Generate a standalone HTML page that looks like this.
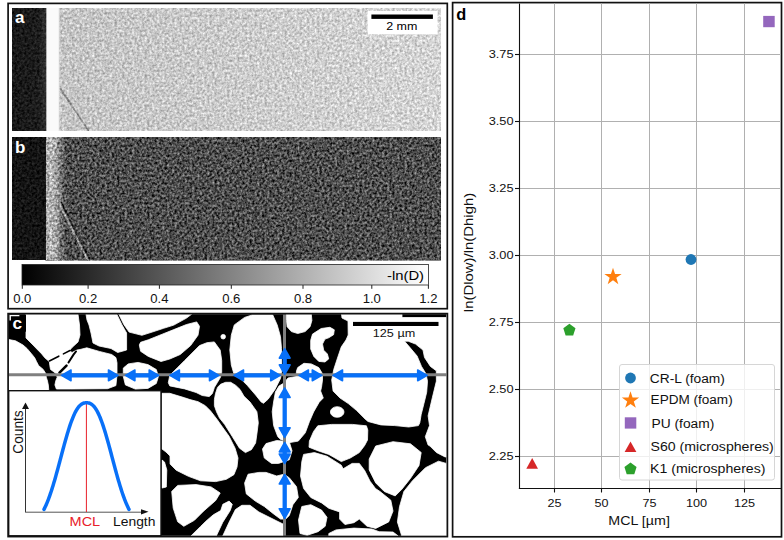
<!DOCTYPE html>
<html><head><meta charset="utf-8">
<style>
html,body{margin:0;padding:0;background:#fff;width:784px;height:540px;overflow:hidden}
svg{display:block;font-family:"Liberation Sans",sans-serif}
</style></head><body>
<svg width="784" height="540" viewBox="0 0 784 540">
<defs>
<linearGradient id="cb" x1="0" x2="1" y1="0" y2="0">
<stop offset="0" stop-color="#000"/><stop offset="1" stop-color="#fff"/>
</linearGradient>
<filter id="nzA" x="0" y="0" width="1" height="1" color-interpolation-filters="sRGB">
<feTurbulence type="fractalNoise" baseFrequency="0.4" numOctaves="2" seed="4" result="t"/>
<feColorMatrix in="t" type="matrix" values="1 0 0 0 0  1 0 0 0 0  1 0 0 0 0  0 0 0 0 1" result="g"/>
<feComposite in="SourceGraphic" in2="g" operator="arithmetic" k1="0" k2="1" k3="0.55" k4="-0.275"/>
</filter>
<filter id="nzB" x="0" y="0" width="1" height="1" color-interpolation-filters="sRGB">
<feTurbulence type="fractalNoise" baseFrequency="0.4" numOctaves="2" seed="9" result="t"/>
<feColorMatrix in="t" type="matrix" values="1 0 0 0 0  1 0 0 0 0  1 0 0 0 0  0 0 0 0 1" result="g"/>
<feComposite in="SourceGraphic" in2="g" operator="arithmetic" k1="0" k2="1" k3="0.95" k4="-0.475"/>
</filter>
<filter id="nzD" x="0" y="0" width="1" height="1" color-interpolation-filters="sRGB">
<feTurbulence type="fractalNoise" baseFrequency="0.4" numOctaves="2" seed="2" result="t"/>
<feColorMatrix in="t" type="matrix" values="1 0 0 0 0  1 0 0 0 0  1 0 0 0 0  0 0 0 0 1" result="g"/>
<feComposite in="SourceGraphic" in2="g" operator="arithmetic" k1="0" k2="1" k3="0.3" k4="-0.15"/>
</filter>
<linearGradient id="gaw" gradientUnits="userSpaceOnUse" x1="57.4" x2="61.4" y1="0" y2="0">
<stop offset="0" stop-color="#fafafa"/><stop offset="1" stop-color="#c8c8c8" stop-opacity="0"/>
</linearGradient>
<linearGradient id="gad" gradientUnits="userSpaceOnUse" x1="12" x2="46.5" y1="0" y2="0">
<stop offset="0" stop-color="#181818"/><stop offset="0.75" stop-color="#1c1c1c"/><stop offset="1" stop-color="#303030"/>
</linearGradient>
<linearGradient id="gbb" gradientUnits="userSpaceOnUse" x1="45.7" x2="66" y1="0" y2="0">
<stop offset="0" stop-color="#a8a8a8"/><stop offset="0.25" stop-color="#b8b8b8"/><stop offset="0.55" stop-color="#a0a0a0"/><stop offset="0.7" stop-color="#7a7a7a"/><stop offset="0.85" stop-color="#646464"/><stop offset="1" stop-color="#4d4d4d"/>
</linearGradient>
<linearGradient id="ga" gradientUnits="userSpaceOnUse" x1="60" x2="441" y1="0" y2="0">
<stop offset="0" stop-color="#c4c4c4"/><stop offset="1" stop-color="#d5d5d5"/>
</linearGradient>
</defs>
<rect width="784" height="540" fill="#fff"/>

<!-- ===== Panel a/b frame ===== -->
<rect x="8.1" y="3.4" width="439.2" height="305.3" fill="none" stroke="#111" stroke-width="1.7"/>

<!-- Panel a -->
<g id="pa"><g filter="url(#nzA)">
<rect x="59" y="8" width="382" height="123" fill="url(#ga)"/>
<polyline points="60,88 66,97 72,106 78,115 84,124 88.5,131" fill="none" stroke="#8a8a8a" stroke-width="1.6"/>
</g>
<g filter="url(#nzD)"><rect x="12" y="8" width="34.5" height="123" fill="url(#gad)"/></g>
<rect x="46.5" y="8" width="11" height="123" fill="#fafafa"/>
<rect x="57.4" y="8" width="4" height="123" fill="url(#gaw)"/>
<rect x="367.6" y="11" width="70" height="23.3" fill="#fff"/>
<rect x="371.4" y="14.5" width="61.5" height="4.4" fill="#000"/>
<text x="386.2" y="30.2" font-size="11" textLength="31.2" lengthAdjust="spacingAndGlyphs" fill="#000">2 mm</text>
<text x="15" y="23" font-size="17" font-weight="bold" fill="#fff">a</text>
</g>

<!-- Panel b -->
<g id="pb"><g filter="url(#nzB)">
<rect x="45.7" y="137" width="395.3" height="123" fill="#4d4d4d"/>
<rect x="45.7" y="137" width="20.3" height="123" fill="url(#gbb)"/>
<polyline points="59,203 66,217 73,231 80,245 88.5,261" fill="none" stroke="#9a9a9a" stroke-width="2"/>
<polyline points="61,202 68,216 75,230 82,244 90.5,260" fill="none" stroke="#262626" stroke-width="1.6"/>
</g>
<g filter="url(#nzD)"><rect x="12" y="137" width="33.7" height="123" fill="#141414"/></g>
<text x="15" y="153" font-size="17" font-weight="bold" fill="#fff">b</text>
</g>

<!-- colorbar -->
<rect x="22" y="264.5" width="406.5" height="20.5" fill="url(#cb)" stroke="#222" stroke-width="0.8"/>
<text x="387" y="280.3" font-size="13.2" textLength="37" lengthAdjust="spacingAndGlyphs" fill="#000">-ln(D)</text>
<g stroke="#222" stroke-width="1">
<line x1="22.3" y1="285" x2="22.3" y2="288.8"/>
<line x1="88.1" y1="285" x2="88.1" y2="288.8"/>
<line x1="159.4" y1="285" x2="159.4" y2="288.8"/>
<line x1="231.3" y1="285" x2="231.3" y2="288.8"/>
<line x1="303" y1="285" x2="303" y2="288.8"/>
<line x1="371.8" y1="285" x2="371.8" y2="288.8"/>
<line x1="428.4" y1="285" x2="428.4" y2="288.8"/>
</g>
<g font-size="12" text-anchor="middle" fill="#111">
<text x="22.3" y="302.9" textLength="18.2" lengthAdjust="spacingAndGlyphs">0.0</text>
<text x="88.1" y="302.9" textLength="18.2" lengthAdjust="spacingAndGlyphs">0.2</text>
<text x="159.4" y="302.9" textLength="18.2" lengthAdjust="spacingAndGlyphs">0.4</text>
<text x="231.3" y="302.9" textLength="18.2" lengthAdjust="spacingAndGlyphs">0.6</text>
<text x="303" y="302.9" textLength="18.2" lengthAdjust="spacingAndGlyphs">0.8</text>
<text x="371.8" y="302.9" textLength="18.2" lengthAdjust="spacingAndGlyphs">1.0</text>
<text x="428.4" y="302.9" textLength="18.2" lengthAdjust="spacingAndGlyphs">1.2</text>
</g>

<!-- ===== Panel c ===== -->

<g id="pc">
<rect x="8.7" y="314.2" width="437.6" height="221.6" fill="#000"/>
<g fill="#fff" stroke="#fff" stroke-width="0.8" stroke-linejoin="round">
<polygon points="26,314.2 78,314.2 79.5,325 80,335 78,342 72,347.5 69.5,350.5 72,352.5 77,350 80,349.5 86.8,347.8 99.3,351.4 111.7,354.5 115.9,357.6 117,362.8 117,375.2 115.9,385.6 107.6,388.7 70.2,389 56.4,389 54.9,385 55.7,381.1 57.2,377.2 55.7,373.3 50.5,369.4 49.8,365.6 49.4,361.7 44.8,357.8 41.7,353.9 37.8,350 33,345 26,338"/>
<polygon points="8.7,339.5 15.5,340.8 23,345 27,348.5 31.6,353.9 34.7,357.8 36.6,361.7 38.6,365.6 43.2,369.4 45.6,373.3 46.3,377.2 47.5,381.1 48.3,385 48.7,389 48.7,391 8.7,391"/>
<polygon points="86,314.2 116.8,314.2 121.8,324.5 126.6,333 126.6,350 117.7,352.5 111,348.5 99,346 93,343 91,333 89,325 87,320"/>
<polygon points="118.8,314.2 191.6,314.2 186.5,318.1 173.8,325.1 163.6,328.3 152.1,332.1 141.9,335.3 129.1,332.1 123.8,324.5"/>
<polygon points="139.3,344.9 140.6,342.3 148.3,339.8 161,334.7 173.8,329.6 186.5,324.5 196.7,321.9 199.5,326.3 198,335.2 190.6,345.6 180.2,354.5 169.8,359 161,361.5 148.3,356.4 140.6,351.3"/>
<polygon points="123.3,368.1 128.2,363.9 138.1,362.4 147.9,364.6 156.3,369.5 158.4,376.5 156.3,383.5 147.9,388.4 135.3,389.1 125.4,384.9 123.3,376.5"/>
<polygon points="168.3,382.7 169.8,375.3 177.2,367.9 184.7,360.4 192.1,353 199.5,345.6 206.9,342.7 214.3,341.9 220.2,350.1 221.7,360.4 221.7,372.3 220.5,377.2 217.5,382.3 214.4,387.4 212.4,393.5 209.3,396.6 202.2,395.5 196.1,392.5 184.7,388.9 169.8,385.9"/>
<polygon points="244.6,317.4 252,315 272.8,315 277.2,324.9 280.5,336.7 281.5,348.6 281.5,372 280.6,378.3 275,389.4 268.1,399.2 263.5,403.3 261.1,401.9 255.6,395 247.2,385.3 238.9,377 234.3,375.2 231.3,364.9 229.8,350 231.3,335.2 234.3,324.9"/>
<polygon points="286.5,314.2 311.3,314.2 311.9,320.4 310.1,326.7 305.1,331.6 297.7,333.5 291.4,331.6 287.1,326.7 286.5,320.4"/>
<polygon points="312.5,334.1 321.2,328.5 329.9,327.3 334.3,329.8 333.6,334.7 328.7,337.8 325,339.1 322.5,344 323.7,350.2 327.4,354 328.7,358.9 325,362 318.8,361.4 313.8,356.4 310.7,349 310.7,340.3"/>
<polygon points="297.7,367.6 303.9,363.3 311.3,363.9 318.8,367.6 322.5,373.8 322.5,380 321.5,387.3 320.6,391 323.3,398 319.2,402.2 313.6,412 309.4,421.7 305.3,432.8 298.3,441.1 290,442.5 280.6,439.4 277.8,436.7 273.6,425.6 272.2,411.7 273.6,402 275.4,392 279,386 284,383 288,378 296,376.5 296.5,371"/>
<polygon points="341.5,314.2 402,314.2 402,317.5 446.3,317.5 446.3,457 445,456.9 436.4,452.5 429.9,446 428.1,445 425.3,436.7 429.5,425.6 428.1,415.8 432.3,397.8 436.4,381.1 436.3,370.8 430.4,366.4 424.5,357.5 423,350.1 415.6,344.1 408.2,341.2 404.5,341.2 409.6,347.1 417.1,356 421.5,366.4 426,373.8 427.5,381.2 426.7,392.2 424,403.3 421.2,414.4 419.8,422.8 418.4,425.6 408.7,427 394.8,425.6 380.9,424.9 368,421.5 365,418.9 356.7,410.6 348.3,403.6 340,398 333.1,391.1 331.7,380 333.8,369.3 337.5,358 341.3,346.8 346,340 348.2,335 348,321 342,318"/>
<polygon points="162,393.3 169.8,393.3 184.7,397.8 190,399.6 198.1,401.7 205.3,405.7 210.4,410.8 214.4,415.9 217.5,420 221.7,426 229.1,436.3 235.1,448.2 238,458 237,467.1 233.9,474.7 226.3,479.3 215.7,481.6 200.5,480.8 188.4,476.3 176.2,470.2 170.1,464.1 170,456 166,452 162,449"/>
<polygon points="220.5,384.3 225.6,382.3 230.7,382.3 235.8,385.4 240,389.4 244,396.3 250,402 256.9,411.7 258.3,422.8 256.9,433.9 255.6,443 251.4,449.7 245.4,452.6 239.5,448.2 232.1,436.3 224.7,424.5 219.5,418 216.5,411.8 214.4,405.7 214.4,399.6 215.5,393.5 217.5,387.4"/>
<polygon points="317.8,425.8 331.7,424.4 352.5,424.4 366.4,425.8 367.8,430 367.5,440 364.7,445.4 359.3,452.6 350.3,458 341.3,461.6 328.8,454.4 318,450.8 309,447.2 309.4,441.1 313.6,431.4"/>
<polygon points="162,460 164.5,462 166.8,470 166.3,487 162,488"/>
<polygon points="171.7,491.4 177.7,485.4 196,484.6 211.1,486.9 220.2,493 215.7,500.5 203.5,511.2 194.4,520.3 183.8,526.3 177.7,521.8 173.2,508.1"/>
<polygon points="222.8,504.3 229.1,501.1 232.3,504.3 230.2,510.6 222.8,522.2 216.4,535.8 191.1,535.8 200.6,526.4 205.9,521.2 213.3,514.8 220.7,510.6"/>
<polygon points="235.4,509.6 241.8,505.3 250,505.3 258.9,512 276.9,521 283,524 283,535.8 222.8,535.8 229.1,522.2"/>
<polygon points="266,443.6 276.7,440.5 289.3,441.8 292,450.8 289.3,459.8 278.5,463.4 271.5,463.4 264.3,458 262.5,449"/>
<polygon points="248.1,474.2 258.9,472.4 266,472.4 276.7,476 283.9,474.2 289.3,477.8 296.5,486.7 298.3,497.5 292.9,504.7 289.3,515.5 285.7,519.1 280.5,519.1 273.3,513.7 264.3,506.5 255.3,501.1 246.3,493.9 244.6,483.1"/>
<polygon points="303.6,454.4 314.4,452.6 327,456.2 341.3,465.2 343.1,468.8 352.1,463.4 359.3,463.4 364.7,470.6 370.1,481.3 375.5,488.5 380,491.5 390.8,500.2 393,511.1 388.7,521.9 375.7,528.4 367,526.2 359.3,519.1 353.9,522.7 344.9,524.5 339.6,519.1 339.6,511.9 328.8,508.3 321.6,502.9 310.8,497.5 303.6,488.5 300.5,476 301.8,461.6"/>
<polygon points="301.8,506.5 310.8,504.7 321.6,510.1 327,517.3 325.2,526.3 318,531.7 307.2,535.3 300,533.5 298.5,520"/>
<polygon points="328.8,533.5 336,529.9 353.9,528.1 371.9,529 379.1,531.7 393,532 398,535.8 328.8,535.8"/>
<polygon points="375.7,446 393,441.7 410.4,443.8 421.2,452.5 419,465.5 410.4,478.5 401.7,489.4 395.2,495.9 384.3,491.5 375.7,482.9 369.2,469.9 369.2,459"/>
<polygon points="425.5,467.7 438.5,461.2 446.3,463.4 446.3,535.8 401.7,535.8 397.4,521.9 399.5,506.7 403.9,491.5 412.5,480.7 421.2,472"/>
<circle cx="223.2" cy="336.7" r="2.3"/>
<ellipse cx="337.2" cy="412" rx="6.8" ry="5.3"/>
</g>
<g fill="none" stroke="#000" stroke-width="1.6" stroke-linecap="round">
<polyline points="49.4,361 58.8,356.2"/><polyline points="63.4,353.9 70,350.5"/>
<polyline points="59.5,372.6 66.5,365.6" stroke-width="2.6"/><polyline points="68.5,362.5 73.5,354.7 76,351.5" stroke-width="2"/>
</g>
<!-- c label -->
<rect x="9.4" y="315" width="16.6" height="16.7" fill="#000"/><path d="M10.2,320.5 V315.6 H19.4" fill="none" stroke="#fff" stroke-width="1.4"/>
<text x="12.4" y="329.2" font-size="16" font-weight="bold" textLength="9.6" lengthAdjust="spacingAndGlyphs" fill="#fff">c</text>
<!-- scale bar -->
<rect x="353" y="321.9" width="85.5" height="4.1" fill="#000"/>
<text x="372.8" y="336.9" font-size="10.8" textLength="42.4" lengthAdjust="spacingAndGlyphs" fill="#111">125 µm</text>
<!-- gray cross lines -->
<line x1="8.7" y1="374.8" x2="446.3" y2="374.8" stroke="#808080" stroke-width="3"/>
<line x1="284.5" y1="314.2" x2="284.5" y2="535.8" stroke="#808080" stroke-width="3"/>
<line x1="67.7" y1="375.4" x2="111.8" y2="375.4" stroke="#0870f8" stroke-width="4.3"/><polygon points="61.5,375.4 71.0,370.0 71.0,380.8" fill="#0870f8" stroke="#0870f8" stroke-width="1.6" stroke-linejoin="round"/><polygon points="118.0,375.4 108.5,370.0 108.5,380.8" fill="#0870f8" stroke="#0870f8" stroke-width="1.6" stroke-linejoin="round"/>
<line x1="131.6" y1="375.4" x2="152.5" y2="375.4" stroke="#0870f8" stroke-width="4.3"/><polygon points="125.4,375.4 134.9,370.0 134.9,380.8" fill="#0870f8" stroke="#0870f8" stroke-width="1.6" stroke-linejoin="round"/><polygon points="158.7,375.4 149.2,370.0 149.2,380.8" fill="#0870f8" stroke="#0870f8" stroke-width="1.6" stroke-linejoin="round"/>
<line x1="176.1" y1="375.4" x2="212.8" y2="375.4" stroke="#0870f8" stroke-width="4.3"/><polygon points="169.9,375.4 179.4,370.0 179.4,380.8" fill="#0870f8" stroke="#0870f8" stroke-width="1.6" stroke-linejoin="round"/><polygon points="219.0,375.4 209.5,370.0 209.5,380.8" fill="#0870f8" stroke="#0870f8" stroke-width="1.6" stroke-linejoin="round"/>
<line x1="240.2" y1="375.4" x2="274.0" y2="375.4" stroke="#0870f8" stroke-width="4.3"/><polygon points="234.0,375.4 243.5,370.0 243.5,380.8" fill="#0870f8" stroke="#0870f8" stroke-width="1.6" stroke-linejoin="round"/><polygon points="280.2,375.4 270.7,370.0 270.7,380.8" fill="#0870f8" stroke="#0870f8" stroke-width="1.6" stroke-linejoin="round"/>
<line x1="305.1" y1="375.4" x2="315.6" y2="375.4" stroke="#0870f8" stroke-width="4.3"/><polygon points="298.9,375.4 308.4,370.0 308.4,380.8" fill="#0870f8" stroke="#0870f8" stroke-width="1.6" stroke-linejoin="round"/><polygon points="321.8,375.4 312.3,370.0 312.3,380.8" fill="#0870f8" stroke="#0870f8" stroke-width="1.6" stroke-linejoin="round"/>
<line x1="339.2" y1="375.4" x2="421.0" y2="375.4" stroke="#0870f8" stroke-width="4.3"/><polygon points="333.0,375.4 342.5,370.0 342.5,380.8" fill="#0870f8" stroke="#0870f8" stroke-width="1.6" stroke-linejoin="round"/><polygon points="427.2,375.4 417.7,370.0 417.7,380.8" fill="#0870f8" stroke="#0870f8" stroke-width="1.6" stroke-linejoin="round"/>
<line x1="284.7" y1="354.8" x2="284.7" y2="368.2" stroke="#0870f8" stroke-width="4.3"/><polygon points="284.7,348.6 279.3,358.1 290.1,358.1" fill="#0870f8" stroke="#0870f8" stroke-width="1.6" stroke-linejoin="round"/><polygon points="284.7,374.4 279.3,364.9 290.1,364.9" fill="#0870f8" stroke="#0870f8" stroke-width="1.6" stroke-linejoin="round"/>
<line x1="284.7" y1="394.2" x2="284.7" y2="431.1" stroke="#0870f8" stroke-width="4.3"/><polygon points="284.7,388.0 279.3,397.5 290.1,397.5" fill="#0870f8" stroke="#0870f8" stroke-width="1.6" stroke-linejoin="round"/><polygon points="284.7,437.3 279.3,427.8 290.1,427.8" fill="#0870f8" stroke="#0870f8" stroke-width="1.6" stroke-linejoin="round"/>
<line x1="284.7" y1="448.6" x2="284.7" y2="457.3" stroke="#0870f8" stroke-width="4.3"/><polygon points="284.7,442.4 279.3,451.9 290.1,451.9" fill="#0870f8" stroke="#0870f8" stroke-width="1.6" stroke-linejoin="round"/><polygon points="284.7,463.5 279.3,454.0 290.1,454.0" fill="#0870f8" stroke="#0870f8" stroke-width="1.6" stroke-linejoin="round"/>
<line x1="284.7" y1="480.7" x2="284.7" y2="512.1" stroke="#0870f8" stroke-width="4.3"/><polygon points="284.7,474.5 279.3,484.0 290.1,484.0" fill="#0870f8" stroke="#0870f8" stroke-width="1.6" stroke-linejoin="round"/><polygon points="284.7,518.3 279.3,508.8 290.1,508.8" fill="#0870f8" stroke="#0870f8" stroke-width="1.6" stroke-linejoin="round"/>
<!-- inset -->
<rect x="8.7" y="390.7" width="152.3" height="145.1" fill="#fff" stroke="#111" stroke-width="1.4"/>
<line x1="25.5" y1="512.2" x2="25.5" y2="406" stroke="#333" stroke-width="1"/>
<polygon points="25.5,402.6 29,409 22,409" fill="#111"/>
<line x1="25.2" y1="512.2" x2="143" y2="512.2" stroke="#555" stroke-width="1"/>
<polygon points="148.5,511.8 141,509.2 141,514.4" fill="#111"/>
<line x1="86.4" y1="402" x2="86.4" y2="512" stroke="#e8202a" stroke-width="1"/>
<path id="gauss" d="M44.00,509.40 L44.50,508.40 L45.00,507.36 L45.50,506.29 L46.00,505.18 L46.50,504.02 L47.00,502.83 L47.50,501.60 L48.00,500.34 L48.50,499.03 L49.00,497.69 L49.50,496.31 L50.00,494.90 L50.50,493.44 L51.00,491.96 L51.50,490.44 L52.00,488.88 L52.50,487.29 L53.00,485.67 L53.50,484.03 L54.00,482.35 L54.50,480.65 L55.00,478.92 L55.50,477.16 L56.00,475.39 L56.50,473.59 L57.00,471.77 L57.50,469.94 L58.00,468.10 L58.50,466.24 L59.00,464.37 L59.50,462.49 L60.00,460.61 L60.50,458.72 L61.00,456.83 L61.50,454.95 L62.00,453.06 L62.50,451.19 L63.00,449.32 L63.50,447.46 L64.00,445.62 L64.50,443.79 L65.00,441.98 L65.50,440.19 L66.00,438.43 L66.50,436.69 L67.00,434.97 L67.50,433.29 L68.00,431.64 L68.50,430.02 L69.00,428.44 L69.50,426.89 L70.00,425.39 L70.50,423.93 L71.00,422.51 L71.50,421.13 L72.00,419.80 L72.50,418.52 L73.00,417.29 L73.50,416.10 L74.00,414.97 L74.50,413.88 L75.00,412.85 L75.50,411.87 L76.00,410.95 L76.50,410.07 L77.00,409.25 L77.50,408.49 L78.00,407.77 L78.50,407.11 L79.00,406.50 L79.50,405.94 L80.00,405.44 L80.50,404.98 L81.00,404.57 L81.50,404.21 L82.00,403.90 L82.50,403.63 L83.00,403.40 L83.50,403.22 L84.00,403.07 L84.50,402.96 L85.00,402.88 L85.50,402.83 L86.00,402.81 L86.50,402.80 L87.00,402.81 L87.50,402.83 L88.00,402.88 L88.50,402.96 L89.00,403.07 L89.50,403.22 L90.00,403.40 L90.50,403.63 L91.00,403.90 L91.50,404.21 L92.00,404.57 L92.50,404.98 L93.00,405.44 L93.50,405.94 L94.00,406.50 L94.50,407.11 L95.00,407.77 L95.50,408.49 L96.00,409.25 L96.50,410.07 L97.00,410.95 L97.50,411.87 L98.00,412.85 L98.50,413.88 L99.00,414.97 L99.50,416.10 L100.00,417.29 L100.50,418.52 L101.00,419.80 L101.50,421.13 L102.00,422.51 L102.50,423.93 L103.00,425.39 L103.50,426.89 L104.00,428.44 L104.50,430.02 L105.00,431.64 L105.50,433.29 L106.00,434.97 L106.50,436.69 L107.00,438.43 L107.50,440.19 L108.00,441.98 L108.50,443.79 L109.00,445.62 L109.50,447.46 L110.00,449.32 L110.50,451.19 L111.00,453.06 L111.50,454.95 L112.00,456.83 L112.50,458.72 L113.00,460.61 L113.50,462.49 L114.00,464.37 L114.50,466.24 L115.00,468.10 L115.50,469.94 L116.00,471.77 L116.50,473.59 L117.00,475.39 L117.50,477.16 L118.00,478.92 L118.50,480.65 L119.00,482.35 L119.50,484.03 L120.00,485.67 L120.50,487.29 L121.00,488.88 L121.50,490.44 L122.00,491.96 L122.50,493.44 L123.00,494.90 L123.50,496.31 L124.00,497.69 L124.50,499.03 L125.00,500.34 L125.50,501.60 L126.00,502.83 L126.50,504.02 L127.00,505.18 L127.50,506.29 L128.00,507.36 L128.50,508.40 L129.00,509.40" fill="none" stroke="#0870f8" stroke-width="3.5" stroke-linecap="round"/>
<text x="69.6" y="526" font-size="13.5" textLength="30.6" lengthAdjust="spacingAndGlyphs" fill="#e8202a">MCL</text>
<text x="113" y="526" font-size="13" textLength="42.4" lengthAdjust="spacingAndGlyphs" fill="#111">Length</text>
<!--counts--><text transform="translate(22.8,432) rotate(-90)" font-size="14" text-anchor="middle" textLength="43.4" lengthAdjust="spacingAndGlyphs" fill="#111">Counts</text>
<rect x="8.1" y="313.6" width="439.3" height="223" fill="none" stroke="#111" stroke-width="1.7"/>
</g>

<!-- ===== Panel d ===== -->
<rect x="452.6" y="2.6" width="328.9" height="534.2" fill="none" stroke="#111" stroke-width="1.7"/>
<g id="pd">
<g stroke="#b0b0b0" stroke-width="1">
<line x1="554.5" y1="3.4" x2="554.5" y2="488.5"/>
<line x1="601.5" y1="3.4" x2="601.5" y2="488.5"/>
<line x1="649.5" y1="3.4" x2="649.5" y2="488.5"/>
<line x1="696.5" y1="3.4" x2="696.5" y2="488.5"/>
<line x1="744.5" y1="3.4" x2="744.5" y2="488.5"/>
<line x1="519.5" y1="54.5" x2="781" y2="54.5"/>
<line x1="519.5" y1="121.5" x2="781" y2="121.5"/>
<line x1="519.5" y1="188.5" x2="781" y2="188.5"/>
<line x1="519.5" y1="255.5" x2="781" y2="255.5"/>
<line x1="519.5" y1="322.5" x2="781" y2="322.5"/>
<line x1="519.5" y1="389.5" x2="781" y2="389.5"/>
<line x1="519.5" y1="456.5" x2="781" y2="456.5"/>
</g>
<g stroke="#111" stroke-width="1.1">
<line x1="519.5" y1="3.4" x2="519.5" y2="489"/>
<line x1="518.9" y1="488.5" x2="781" y2="488.5"/>
<line x1="515" y1="54.5" x2="519.5" y2="54.5"/>
<line x1="515" y1="121.5" x2="519.5" y2="121.5"/>
<line x1="515" y1="188.5" x2="519.5" y2="188.5"/>
<line x1="515" y1="255.5" x2="519.5" y2="255.5"/>
<line x1="515" y1="322.5" x2="519.5" y2="322.5"/>
<line x1="515" y1="389.5" x2="519.5" y2="389.5"/>
<line x1="515" y1="456.5" x2="519.5" y2="456.5"/>
<line x1="554.5" y1="488.5" x2="554.5" y2="492.5"/>
<line x1="601.5" y1="488.5" x2="601.5" y2="492.5"/>
<line x1="649.5" y1="488.5" x2="649.5" y2="492.5"/>
<line x1="696.5" y1="488.5" x2="696.5" y2="492.5"/>
<line x1="744.5" y1="488.5" x2="744.5" y2="492.5"/>
</g>
<g font-size="11" text-anchor="end" fill="#111">
<text x="513.6" y="58.2" textLength="24.9" lengthAdjust="spacingAndGlyphs">3.75</text>
<text x="513.6" y="125.1" textLength="24.9" lengthAdjust="spacingAndGlyphs">3.50</text>
<text x="513.6" y="192.1" textLength="24.9" lengthAdjust="spacingAndGlyphs">3.25</text>
<text x="513.6" y="259.2" textLength="24.9" lengthAdjust="spacingAndGlyphs">3.00</text>
<text x="513.6" y="326" textLength="24.9" lengthAdjust="spacingAndGlyphs">2.75</text>
<text x="513.6" y="393.1" textLength="24.9" lengthAdjust="spacingAndGlyphs">2.50</text>
<text x="513.6" y="460" textLength="24.9" lengthAdjust="spacingAndGlyphs">2.25</text>
</g>
<g font-size="11" text-anchor="middle" fill="#111">
<text x="554.5" y="506.6" textLength="14.0" lengthAdjust="spacingAndGlyphs">25</text>
<text x="601.5" y="506.6" textLength="14.0" lengthAdjust="spacingAndGlyphs">50</text>
<text x="649.5" y="506.6" textLength="14.0" lengthAdjust="spacingAndGlyphs">75</text>
<text x="696.5" y="506.6" textLength="21.2" lengthAdjust="spacingAndGlyphs">100</text>
<text x="744.5" y="506.6" textLength="21.2" lengthAdjust="spacingAndGlyphs">125</text>
</g>
<text x="639.1" y="524.7" font-size="12" text-anchor="middle" textLength="61.6" lengthAdjust="spacingAndGlyphs" fill="#111">MCL [µm]</text>
<text transform="translate(472.8,252.5) rotate(-90)" font-size="12.4" text-anchor="middle" textLength="119.4" lengthAdjust="spacingAndGlyphs" fill="#111">ln(Dlow)/ln(Dhigh)</text>
<text x="456.2" y="19.7" font-size="17" font-weight="bold" textLength="10" lengthAdjust="spacingAndGlyphs" fill="#000">d</text>

<!-- data -->
<circle cx="691" cy="259.5" r="5.4" fill="#1f77b4"/>
<polygon fill="#ff7f0e" transform="translate(613,276.8) scale(9.1)" points="0,-1 0.2245,-0.309 0.951,-0.309 0.363,0.118 0.588,0.809 0,0.382 -0.588,0.809 -0.363,0.118 -0.951,-0.309 -0.2245,-0.309"/>
<rect x="763.2" y="15.9" width="11.5" height="11.3" fill="#9467bd"/>
<polygon fill="#d62728" points="532.2,458 538,468.7 526.3,468.7"/>
<polygon fill="#2ca02c" transform="translate(569.4,330.2) scale(6.4)" points="0,-1 0.951,-0.309 0.588,0.809 -0.588,0.809 -0.951,-0.309"/>

<!-- legend -->
<rect x="619.5" y="364.5" width="155" height="115.5" rx="2.5" fill="#fff" fill-opacity="0.8" stroke="#d6d6d6" stroke-width="1"/>
<circle cx="630.5" cy="378" r="5.4" fill="#1f77b4"/>
<polygon fill="#ff7f0e" transform="translate(630.5,400.4) scale(9.1)" points="0,-1 0.2245,-0.309 0.951,-0.309 0.363,0.118 0.588,0.809 0,0.382 -0.588,0.809 -0.363,0.118 -0.951,-0.309 -0.2245,-0.309"/>
<rect x="624.8" y="417.3" width="11.5" height="11.3" fill="#9467bd"/>
<polygon fill="#d62728" points="630.5,441.4 636.4,452 624.6,452"/>
<polygon fill="#2ca02c" transform="translate(630.5,469) scale(6.4)" points="0,-1 0.951,-0.309 0.588,0.809 -0.588,0.809 -0.951,-0.309"/>
<g font-size="12" fill="#111">
<text x="649.8" y="383.1" textLength="75.1" lengthAdjust="spacingAndGlyphs">CR-L (foam)</text>
<text x="650.6" y="404.3" textLength="82.1" lengthAdjust="spacingAndGlyphs">EPDM (foam)</text>
<text x="651.5" y="427.5" textLength="62.8" lengthAdjust="spacingAndGlyphs">PU (foam)</text>
<text x="650.5" y="450.5" textLength="123.3" lengthAdjust="spacingAndGlyphs">S60 (microspheres)</text>
<text x="650" y="473" textLength="115.5" lengthAdjust="spacingAndGlyphs">K1 (microspheres)</text>
</g>
</g>
</svg>
</body></html>
